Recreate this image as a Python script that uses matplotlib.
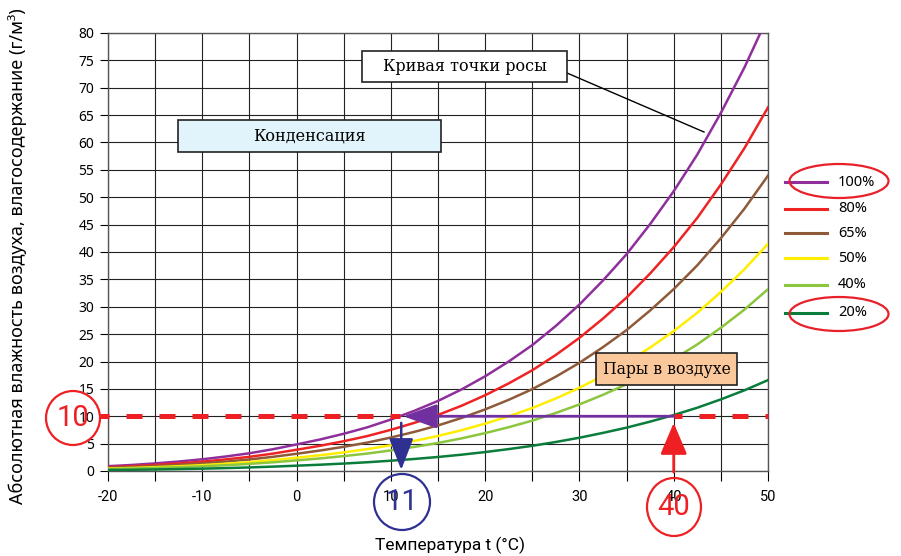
import matplotlib
matplotlib.use("Agg")
import matplotlib.pyplot as plt
from matplotlib.patches import Ellipse, Rectangle, FancyArrowPatch
from matplotlib.lines import Line2D

# ---------------------------------------------------------------------
# Data (absolute humidity, g/m3, every 2.5 degC from -20 to 50)
# ---------------------------------------------------------------------

temps = [-20, -17.5, -15, -12.5, -10, -7.5, -5, -2.5, 0, 2.5, 5, 7.5, 10, 12.5,
         15, 17.5, 20, 22.5, 25, 27.5, 30, 32.5, 35, 37.5, 40, 42.5, 45, 47.5, 50]

rh_100 = [0.88, 1.10, 1.39, 1.73, 2.14, 2.65, 3.24, 3.98, 4.85, 5.76, 6.80, 7.98, 9.40, 11.00,
          12.80, 14.90, 17.30, 20.00, 23.00, 26.50, 30.40, 34.80, 39.60, 45.10, 51.10, 57.80, 65.40, 73.70, 83.00]
rh_80 = [0.70, 0.88, 1.11, 1.38, 1.71, 2.12, 2.59, 3.18, 3.88, 4.61, 5.44, 6.38, 7.52, 8.80,
         10.24, 11.92, 13.84, 16.00, 18.40, 21.20, 24.32, 27.84, 31.68, 36.08, 40.88, 46.24, 52.32, 58.96, 66.40]
rh_65 = [0.57, 0.72, 0.90, 1.12, 1.39, 1.72, 2.11, 2.59, 3.15, 3.74, 4.42, 5.19, 6.11, 7.15,
         8.32, 9.69, 11.25, 13.00, 14.95, 17.23, 19.76, 22.62, 25.74, 29.32, 33.22, 37.57, 42.51, 47.91, 53.95]
rh_50 = [0.44, 0.55, 0.70, 0.87, 1.07, 1.33, 1.62, 1.99, 2.43, 2.88, 3.40, 3.99, 4.70, 5.50,
         6.40, 7.45, 8.65, 10.00, 11.50, 13.25, 15.20, 17.40, 19.80, 22.55, 25.55, 28.90, 32.70, 36.85, 41.50]
rh_40 = [0.35, 0.44, 0.56, 0.69, 0.86, 1.06, 1.30, 1.59, 1.94, 2.30, 2.72, 3.19, 3.76, 4.40,
         5.12, 5.96, 6.92, 8.00, 9.20, 10.60, 12.16, 13.92, 15.84, 18.04, 20.44, 23.12, 26.16, 29.48, 33.20]
rh_20 = [0.18, 0.22, 0.28, 0.35, 0.43, 0.53, 0.65, 0.80, 0.97, 1.15, 1.36, 1.60, 1.88, 2.20,
         2.56, 2.98, 3.46, 4.00, 4.60, 5.30, 6.08, 6.96, 7.92, 9.02, 10.22, 11.56, 13.08, 14.74, 16.60]

series_labels = ["100%", "80%", "65%", "50%", "40%", "20%"]
series_values = [rh_100, rh_80, rh_65, rh_50, rh_40, rh_20]
series_colors = ["#8e2f9c", "#ee2424", "#8f5a3a", "#ffee00", "#8cc63f", "#0a7d3b"]

x_ticks = list(range(-20, 51, 5))
x_ticklabels = ["-20", "", "-10", "", "0", "", "10", "", "20", "", "30", "", "40", "", "50"]
y_ticks = list(range(0, 81, 5))

# example reading of the chart
level = 10      # g/m3
t_start = 40    # degC at 20%
t_dew = 11      # dew point

W, H = 901, 556
NARROW = ["Roboto", "DejaVu Sans"]
SERIF = ["DejaVu Serif"]


def fpos(x, y):
    # pixel position (top-left origin) -> figure fraction
    return x / W, 1 - y / H


# ---------------------------------------------------------------------
# Figure
# ---------------------------------------------------------------------

fig = plt.figure(figsize=(W / 100, H / 100), dpi=100)
ax = fig.add_axes([108 / W, 1 - 471 / H, 660 / W, 438 / H])

for vals, col in zip(series_values, series_colors):
    ax.plot(temps, vals, color=col, lw=1.8, zorder=3)

ax.set_xlim(-20, 50)
ax.set_ylim(0, 80)
ax.set_xticks(x_ticks)
ax.set_xticklabels(x_ticklabels, family=NARROW, fontsize=10.5)
ax.set_yticks(y_ticks)
ax.set_yticklabels([str(v) for v in y_ticks], family=["Noto Sans"], fontsize=10)
ax.tick_params(axis="x", direction="out", length=7, width=0.8, pad=7)
ax.tick_params(axis="y", direction="out", length=6, width=0.8, pad=4)
ax.grid(True, color="#222222", lw=0.8, zorder=1)
for sp in ax.spines.values():
    sp.set_color("#555555")
    sp.set_linewidth(1.0)

# red dashed reference line at 10 g/m3
dash = dict(color="#ee2024", lw=3.6, clip_on=False, zorder=5, solid_capstyle="butt")
ax.plot([-20.85, t_dew], [level, level], ls=(1.4, (3.2, 3.4)), dash_capstyle="butt",
        **dash)
ax.plot([t_start, 50], [level, level], ls=(1.6, (3.2, 3.4)), dash_capstyle="butt",
        **dash)

# purple arrow along the level
ax.add_patch(FancyArrowPatch((t_start, level), (t_dew + 0.3, level),
                             arrowstyle="-|>,head_length=1.4,head_width=0.5",
                             mutation_scale=15, color="#7030a0", lw=2.0,
                             shrinkA=0, shrinkB=0, zorder=6))
# blue arrow down to the dew point
ax.add_patch(FancyArrowPatch((t_dew + 0.1, 8.8), (t_dew + 0.1, 0.2),
                             arrowstyle="-|>,head_length=1.3,head_width=0.5",
                             mutation_scale=15, color="#2e3192", lw=1.8,
                             shrinkA=0, shrinkB=0, clip_on=False, zorder=6))
# red arrow up from 40
ax.add_patch(FancyArrowPatch((t_start, -0.2), (t_start, 8.8),
                             arrowstyle="-|>,head_length=1.3,head_width=0.55",
                             mutation_scale=15, color="#ee2024", lw=2.0,
                             shrinkA=0, shrinkB=0, clip_on=False, zorder=6))

# ---------------------------------------------------------------------
# Text boxes
# ---------------------------------------------------------------------

def box(x0, y0, x1, y1, text, face, size, family=SERIF, stretch="normal"):
    fx0, fy1 = fpos(x0, y1)
    fx1, fy0 = fpos(x1, y0)
    fig.patches.append(Rectangle((fx0, fy1), fx1 - fx0, fy0 - fy1,
                                 transform=fig.transFigure, facecolor=face,
                                 edgecolor="#222222", lw=1.2, zorder=7))
    cx, cy = fpos((x0 + x1) / 2, (y0 + y1) / 2)
    fig.text(cx, cy, text, ha="center", va="center", fontsize=size,
             family=family, fontstretch=stretch, zorder=8)


box(362, 51, 567, 82, "Кривая точки росы", "white", 11.5)
box(178, 120, 441, 152, "Конденсация", "#e1f3fb", 11.5)
box(596, 353, 737, 385, "Пары в воздухе", "#fbc89b", 12.5, stretch="condensed")

# pointer to the 100% curve
fig.lines.append(Line2D([567 / W, 704 / W], [1 - 73 / H, 1 - 132 / H],
                        transform=fig.transFigure, color="black", lw=1.0))

# ---------------------------------------------------------------------
# Circled numbers
# ---------------------------------------------------------------------

def ring(x, y, w, h, col, text=None, size=21):
    cx, cy = fpos(x, y)
    fig.patches.append(Ellipse((cx, cy), w / W, h / H, transform=fig.transFigure,
                               fill=False, edgecolor=col, lw=1.6, zorder=9))
    if text:
        fig.text(cx, cy, text, ha="center", va="center", color=col,
                 fontsize=size, family=NARROW, zorder=9)


ring(73, 418, 54, 54, "#ee2024", "10")
ring(402, 502, 56, 56, "#2e3192", "11")
ring(674, 507, 54, 58, "#ee2024", "40")

# ---------------------------------------------------------------------
# Legend (outside right)
# ---------------------------------------------------------------------

leg_y = [182, 209, 233, 258, 285, 313]
for lab, col, yy in zip(series_labels, series_colors, leg_y):
    _, fy = fpos(0, yy)
    fig.lines.append(Line2D([785 / W, 827 / W], [fy, fy], transform=fig.transFigure,
                            color=col, lw=2.2))
    fig.text(838 / W, fy, lab, ha="left", va="center", fontsize=10.5,
             family=["Noto Sans"])

ring(839, 181, 99, 34, "#e8202a")
ring(839, 314, 99, 34, "#e8202a")

# ---------------------------------------------------------------------
# Axis titles
# ---------------------------------------------------------------------

fig.text(18 / W, 1 - 256 / H, "Абсолютная влажность воздуха, влагосодержание (г/м³)",
         rotation=90, ha="center", va="center", fontsize=13, family=["Noto Sans"])
fig.text(450 / W, 1 - 545 / H, "Температура t (°C)", ha="center", va="center",
         fontsize=12.5, family=NARROW)

fig.savefig("out.png", dpi=100)
